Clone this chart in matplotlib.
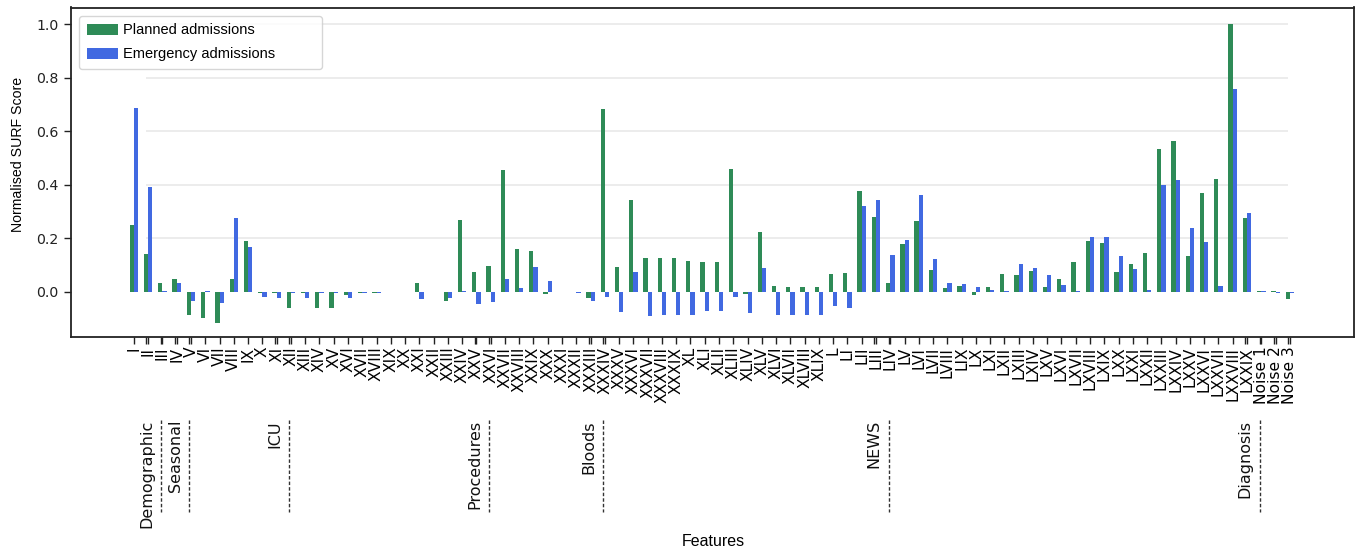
import matplotlib
matplotlib.use("Agg")
import matplotlib.pyplot as plt
import numpy as np

# ---------------- data ----------------
features = ["I", "II", "III", "IV", "V", "VI", "VII", "VIII", "IX", "X",
            "XI", "XII", "XIII", "XIV", "XV", "XVI", "XVII", "XVIII", "XIX", "XX",
            "XXI", "XXII", "XXIII", "XXIV", "XXV", "XXVI", "XXVII", "XXVIII", "XXIX", "XXX",
            "XXXI", "XXXII", "XXXIII", "XXXIV", "XXXV", "XXXVI", "XXXVII", "XXXVIII", "XXXIX", "XL",
            "XLI", "XLII", "XLIII", "XLIV", "XLV", "XLVI", "XLVII", "XLVIII", "XLIX", "L",
            "LI", "LII", "LIII", "LIV", "LV", "LVI", "LVII", "LVIII", "LIX", "LX",
            "LXI", "LXII", "LXIII", "LXIV", "LXV", "LXVI", "LXVII", "LXVIII", "LXIX", "LXX",
            "LXXI", "LXXII", "LXXIII", "LXXIV", "LXXV", "LXXVI", "LXXVII", "LXXVIII", "LXXIX",
            "Noise 1", "Noise 2", "Noise 3"]

planned = [0.249, 0.141, 0.034, 0.046, -0.087, -0.097, -0.115, 0.046, 0.188, -0.003,
           -0.006, -0.062, -0.005, -0.062, -0.062, -0.012, -0.003, -0.003, -0.002, -0.002,
           0.031, -0.002, -0.034, 0.268, 0.075, 0.096, 0.455, 0.161, 0.154, -0.007,
           -0.002, -0.002, -0.022, 0.682, 0.091, 0.342, 0.125, 0.125, 0.125, 0.116,
           0.110, 0.110, 0.457, -0.010, 0.224, 0.021, 0.016, 0.019, 0.016, 0.067,
           0.070, 0.377, 0.278, 0.032, 0.178, 0.265, 0.081, 0.014, 0.022, -0.011,
           0.019, 0.067, 0.062, 0.078, 0.019, 0.046, 0.110, 0.188, 0.184, 0.075,
           0.102, 0.146, 0.533, 0.563, 0.133, 0.369, 0.422, 1.000, 0.275, 0.002,
           0.002, -0.027]

emergency = [0.687, 0.392, 0.002, 0.034, -0.035, 0.002, -0.041, 0.276, 0.166, -0.019,
             -0.025, -0.003, -0.025, -0.005, -0.003, -0.025, -0.003, -0.003, -0.002, -0.002,
             -0.027, -0.002, -0.025, 0.002, -0.044, -0.040, 0.047, 0.015, 0.093, 0.040,
             -0.002, -0.003, -0.036, -0.019, -0.077, 0.072, -0.090, -0.087, -0.087, -0.087,
             -0.071, -0.071, -0.021, -0.078, 0.087, -0.087, -0.087, -0.087, -0.087, -0.054,
             -0.059, 0.320, 0.344, 0.139, 0.193, 0.361, 0.123, 0.034, 0.030, 0.019,
             0.007, 0.002, 0.103, 0.090, 0.062, 0.024, 0.002, 0.205, 0.203, 0.133,
             0.086, 0.005, 0.397, 0.417, 0.240, 0.187, 0.021, 0.756, 0.293, 0.001,
             -0.005, -0.003]

group_names = ["Demographic", "Seasonal", "ICU", "Procedures", "Bloods", "NEWS", "Diagnosis"]
group_ends = [2, 4, 11, 25, 33, 53, 79]   # index of first feature after each group

yticks = [0.0, 0.2, 0.4, 0.6, 0.8, 1.0]

# ---------------- style ----------------
plt.rcParams['font.family'] = ['DejaVu Sans']
SANS = 'Liberation Sans'
GREEN = '#2e8b57'
BLUE = '#4169e1'

W, H = 1357, 550
AX_L, AX_R, AX_T, AX_B = 71, 1354, 7.5, 337
fig = plt.figure(figsize=(W / 100, H / 100), dpi=100)
ax = fig.add_axes([AX_L / W, 1 - AX_B / H, (AX_R - AX_L) / W, (AX_B - AX_T) / H])

x = np.arange(len(features))
bw = 0.3
ax.bar(x - bw / 2, planned, width=bw, color=GREEN, label='Planned admissions', zorder=2)
ax.bar(x + bw / 2, emergency, width=bw, color=BLUE, label='Emergency admissions', zorder=2)

ax.set_xlim(-4.41, 85.5)
ax.set_ylim(-0.169, 1.062)

off = 0.12
ax.hlines(yticks[1:], 1 - off, len(features) - 1 - off, color='#ebebeb', lw=1.3, zorder=0)

ax.set_xticks(x)
ax.set_xticklabels(features, rotation=90, fontsize=11.2)
minor = []
for e in group_ends:
    minor += [e - 1 - off, e - off]
minor += [len(features) - 2 - off, len(features) - 1 - off]
ax.set_xticks(minor, minor=True)
ax.tick_params(axis='x', which='both', length=5, width=1, color='#222222', pad=2)

ax.set_yticks(yticks)
ax.set_yticklabels([f"{v:.1f}" for v in yticks], fontsize=10.2)
ax.tick_params(axis='y', length=5, width=1, color='#222222', pad=4, labelcolor='#222222')

for s in ax.spines.values():
    s.set_linewidth(1.3)
    s.set_color('#222222')

# group labels and separators below the tick labels
tr = ax.get_xaxis_transform()
y_top = (AX_B - 420) / (AX_B - AX_T)
y_bot = (AX_B - 512) / (AX_B - AX_T)
for name, e in zip(group_names, group_ends):
    ax.plot([e - off, e - off], [y_top, y_bot], transform=tr, clip_on=False,
            color='#333333', lw=1.0, ls=(0, (2.5, 1.5)))
    ax.text(e - 1 - off, y_top, name, transform=tr, rotation=90, ha='center', va='top',
            fontsize=11.5, color='#111111')

# legend (frame spans roughly x 79..322 px, top at 16 px)
lx0 = (79.3 - AX_L) / (AX_R - AX_L)
lx1 = (322 - AX_L) / (AX_R - AX_L)
ly1 = (AX_B - 16) / (AX_B - AX_T)
leg = ax.legend(loc='upper left', bbox_to_anchor=(lx0, 0.5, lx1 - lx0, ly1 - 0.5),
                mode='expand', borderaxespad=0, prop={'family': SANS, 'size': 10.5},
                handlelength=2.15, handleheight=0.75, handletextpad=0.35, labelspacing=0.7,
                borderpad=0.5, fancybox=True)

fig.text(713 / W, 1 - 541 / H, 'Features', ha='center', va='center', fontsize=11.5, family=SANS)
fig.text(18 / W, 1 - 154 / H, 'Normalised SURF Score', ha='center', va='center', rotation=90,
         fontsize=10.2, family=SANS)

fig.savefig('out.png', dpi=100)
